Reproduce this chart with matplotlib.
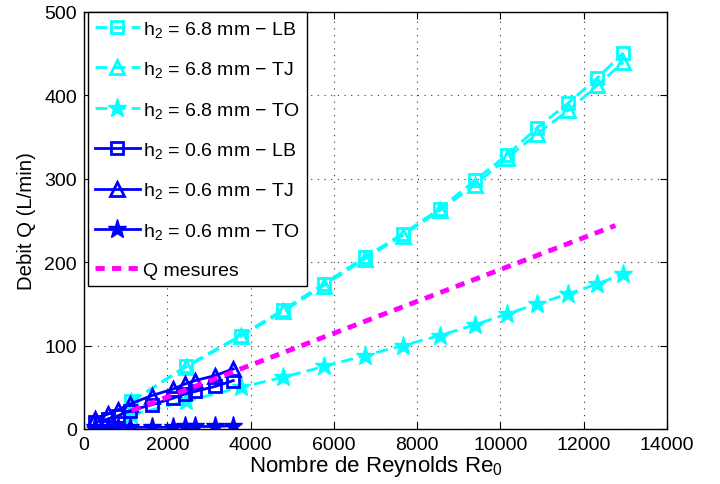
import matplotlib
matplotlib.use("Agg")
import matplotlib.pyplot as plt

plt.rcParams['font.family'] = ['Liberation Sans', 'DejaVu Sans']
plt.rcParams['mathtext.fontset'] = 'custom'
plt.rcParams['mathtext.rm'] = 'Liberation Sans'
plt.rcParams['mathtext.it'] = 'Liberation Sans'

# --- data ---
re_68 = [1136, 2440, 3761, 4780, 5760, 6740, 7650, 8544, 9384, 10162, 10882, 11630, 12330, 12950]
q_68_lb = [33, 75, 112, 143, 174, 206, 234, 264, 298, 329, 361, 391, 421, 451]
q_68_tj = [33, 74, 111, 141, 172, 204, 232, 262, 293, 325, 354, 382, 412, 440]
q_68_to = [17, 33, 50, 62, 75, 88, 100, 112, 125, 138, 150, 162, 174, 186]

re_06 = [257, 583, 823, 1104, 1625, 2143, 2424, 2664, 3145, 3585]
q_06_lb = [8, 12, 16, 22, 29, 37, 42, 45, 51, 58]
q_06_tj = [12, 18, 23, 30, 40, 48, 54, 58, 64, 72]
q_06_to = [2, 2, 2, 2, 2, 2, 3, 3, 3, 4]

re_mes = [1144, 12760]
q_mes = [22, 244]

labels = [r"h$_2$ = 6.8 mm $-$ LB", r"h$_2$ = 6.8 mm $-$ TJ", r"h$_2$ = 6.8 mm $-$ TO",
          r"h$_2$ = 0.6 mm $-$ LB", r"h$_2$ = 0.6 mm $-$ TJ", r"h$_2$ = 0.6 mm $-$ TO",
          "Q mesures"]

cyan = (0, 1, 1)
blue = (0, 0, 1)
mag = (1, 0, 1)

fig = plt.figure(figsize=(7.2, 4.85), dpi=100)
ax = fig.add_axes([84/720, 1 - 430/485, (667 - 84)/720, (430 - 13)/485])

dash_c = (4.3, 2.2)
ax.plot(re_68, q_68_lb, color=cyan, lw=2, dashes=dash_c, marker='s', ms=8,
        mfc='none', mew=2, label=labels[0])
ax.plot(re_68, q_68_tj, color=cyan, lw=2, dashes=dash_c, marker='^', ms=10,
        mfc='none', mew=2, label=labels[1])
ax.plot(re_68, q_68_to, color=cyan, lw=2, dashes=dash_c, marker='*', ms=14,
        label=labels[2])
ax.plot(re_06, q_06_lb, color=blue, lw=2, marker='s', ms=8,
        mfc='none', mew=2, label=labels[3])
ax.plot(re_06, q_06_tj, color=blue, lw=2, marker='^', ms=10,
        mfc='none', mew=2, label=labels[4])
ax.plot(re_06, q_06_to, color=blue, lw=2, marker='*', ms=14, label=labels[5])
ax.plot(re_mes, q_mes, color=mag, lw=3.5, dashes=(1.9, 1.5), label=labels[6])

ax.set_xlim(0, 14000)
ax.set_ylim(0, 500)
ax.set_xticks(range(0, 14001, 2000))
ax.set_yticks(range(0, 501, 100))
ax.tick_params(direction='in', top=True, right=True, labelsize=14, length=5, pad=5)
ax.grid(True, linestyle=(0, (1, 5)), color='#333333', lw=0.8)
for s in ax.spines.values():
    s.set_linewidth(1)

ax.set_xlabel(r"Nombre de Reynolds Re$_0$", fontsize=16, labelpad=0)
ax.set_ylabel("Debit Q (L/min)", fontsize=14.7, labelpad=6)

leg = ax.legend(loc='upper left', bbox_to_anchor=(4/583, 1), fontsize=14,
                frameon=True, fancybox=False, edgecolor='black', framealpha=1,
                borderaxespad=0, handlelength=2.3, handletextpad=0.2,
                labelspacing=1.05, borderpad=0.35)
leg.get_frame().set_linewidth(1)

fig.savefig("out.png", dpi=100)
